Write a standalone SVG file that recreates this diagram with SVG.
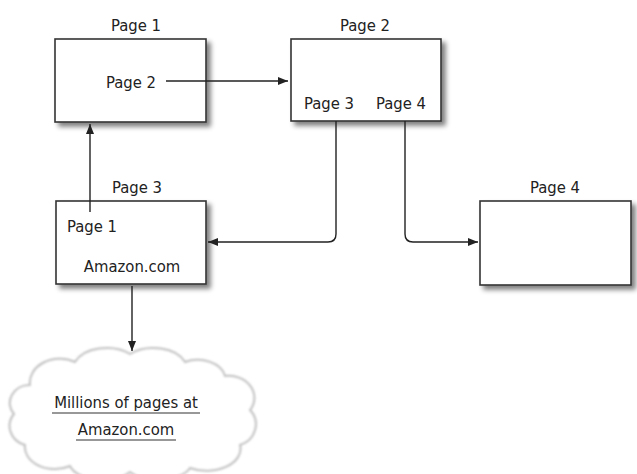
<svg xmlns="http://www.w3.org/2000/svg" width="637" height="474" viewBox="0 0 637 474">
  <defs>
    <style>
      .box { fill: #ffffff; stroke: #333333; stroke-width: 1.6; }
      .lbl { font-family: "DejaVu Sans Condensed", "Liberation Sans Narrow", "Liberation Sans", sans-serif; font-stretch: condensed; font-size: 16.5px; fill: #222222; }
      .wire { fill: none; stroke: #222222; stroke-width: 1.4; }
      .cloud { fill: #ffffff; stroke: #bdbdbd; stroke-width: 2; }
      .ul { stroke: #333333; stroke-width: 1.2; }
    </style>
    <filter id="shadow" x="-10%" y="-10%" width="130%" height="140%">
      <feGaussianBlur in="SourceAlpha" stdDeviation="2.5"/>
      <feOffset dx="4" dy="4" result="b"/>
      <feComponentTransfer><feFuncA type="linear" slope="0.5"/></feComponentTransfer>
      <feMerge><feMergeNode/><feMergeNode in="SourceGraphic"/></feMerge>
    </filter>
    <filter id="soft"><feGaussianBlur stdDeviation="0.8"/></filter>
    <marker id="arrow" viewBox="0 0 10 8" refX="10" refY="4" markerWidth="10" markerHeight="8" markerUnits="userSpaceOnUse" orient="auto">
      <path d="M0,0 L10,4 L0,8 Z" fill="#222222"/>
    </marker>
  </defs>
  <rect width="637" height="474" fill="#ffffff"/>

  <g id="page1">
    <rect class="box" x="55" y="39" width="151" height="83" filter="url(#shadow)"/>
    <text class="lbl" x="136" y="31" text-anchor="middle">Page 1</text>
    <text class="lbl" x="131" y="88" text-anchor="middle">Page 2</text>
  </g>

  <g id="page2">
    <rect class="box" x="291" y="39" width="150" height="82" filter="url(#shadow)"/>
    <text class="lbl" x="365" y="31" text-anchor="middle">Page 2</text>
    <text class="lbl" x="329" y="109" text-anchor="middle">Page 3</text>
    <text class="lbl" x="401" y="109" text-anchor="middle">Page 4</text>
  </g>

  <g id="page3">
    <rect class="box" x="56" y="201" width="150" height="83" filter="url(#shadow)"/>
    <text class="lbl" x="137" y="193" text-anchor="middle">Page 3</text>
    <text class="lbl" x="92" y="232" text-anchor="middle">Page 1</text>
    <text class="lbl" x="132" y="272" text-anchor="middle">Amazon.com</text>
  </g>

  <g id="page4">
    <rect class="box" x="480" y="201" width="151" height="84" filter="url(#shadow)"/>
    <text class="lbl" x="555" y="193" text-anchor="middle">Page 4</text>
  </g>

  <g id="amazon-cloud">
    <path class="cloud" filter="url(#soft)" d="M30,385 A30,24 0 0 1 75,362 A34,22 0 0 1 130,354 A34,22 0 0 1 185,362 A28,20 0 0 1 225,376 A26,22 0 0 1 250,410 A24,22 0 0 1 240,445 A34,22 0 0 1 190,468 A34,18 0 0 1 130,472 A34,20 0 0 1 70,466 A30,22 0 0 1 25,445 A22,20 0 0 1 14,414 A20,18 0 0 1 30,385 Z"/>
    <text class="lbl" x="126" y="408" text-anchor="middle">Millions of pages at</text>
    <line class="ul" x1="52" y1="413" x2="200" y2="413"/>
    <text class="lbl" x="126" y="435" text-anchor="middle">Amazon.com</text>
    <line class="ul" x1="76" y1="440" x2="176" y2="440"/>
  </g>

  <g id="connectors">
    <line class="wire" x1="166" y1="81" x2="288" y2="81" marker-end="url(#arrow)"/>
    <line class="wire" x1="90" y1="212" x2="90" y2="124" marker-end="url(#arrow)"/>
    <path class="wire" d="M336,121 V234 Q336,242 328,242 H208" marker-end="url(#arrow)"/>
    <path class="wire" d="M405,121 V234 Q405,242 413,242 H478" marker-end="url(#arrow)"/>
    <line class="wire" x1="132" y1="286" x2="132" y2="351" marker-end="url(#arrow)"/>
  </g>
</svg>
